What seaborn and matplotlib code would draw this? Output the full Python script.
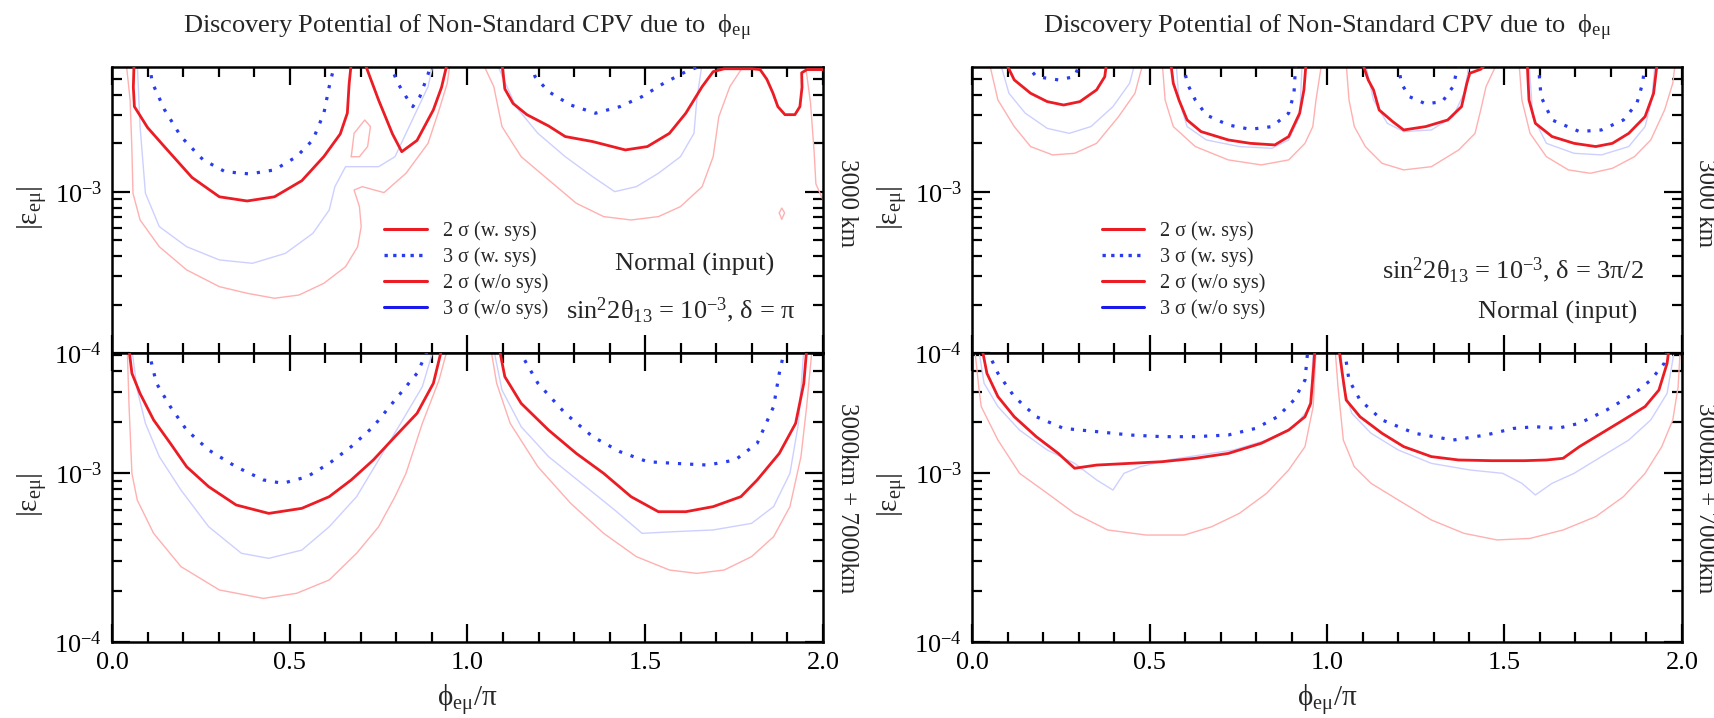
import numpy as np
import pandas as pd
import matplotlib
matplotlib.use("Agg")
import matplotlib.pyplot as plt
import seaborn as sns
from matplotlib.lines import Line2D
from matplotlib.ticker import MultipleLocator, LogLocator, FixedLocator, FixedFormatter, NullFormatter

# ---------------- data (phi/pi, log10 |eps_emu|) ----------------
# Upper-left: 3000 km, delta = pi
UL_RED_SYS_PHI = [[0.062, 0.060, 0.063, 0.100, 0.148, 0.225, 0.302, 0.380, 0.457, 0.534, 0.596, 0.642, 0.662, 0.667, 0.673],
                  [0.711, 0.750, 0.789, 0.815, 0.858, 0.904, 0.927, 0.943],
                  [1.097, 1.105, 1.128, 1.167, 1.228, 1.275, 1.352, 1.444, 1.506, 1.568, 1.614, 1.660, 1.691, 1.722, 1.800,
                   1.823, 1.842, 1.859, 1.873, 1.893, 1.921, 1.935, 1.941, 1.940, 1.955, 2.000]]
UL_RED_SYS_EXP = [[-2.20, -2.35, -2.47, -2.60, -2.72, -2.91, -3.03, -3.056, -3.03, -2.93, -2.78, -2.64, -2.51, -2.33, -2.20],
                  [-2.20, -2.43, -2.64, -2.75, -2.68, -2.49, -2.35, -2.20],
                  [-2.20, -2.36, -2.45, -2.52, -2.59, -2.656, -2.687, -2.739, -2.718, -2.636, -2.511, -2.346, -2.253, -2.235, -2.235,
                   -2.24, -2.30, -2.385, -2.47, -2.52, -2.52, -2.47, -2.35, -2.26, -2.24, -2.24]]
UL_BLUE_SYS_PHI = [[0.105, 0.113, 0.148, 0.194, 0.256, 0.318, 0.387, 0.457, 0.519, 0.565, 0.596, 0.611, 0.627],
                   [0.781, 0.804, 0.827, 0.846, 0.866, 0.889, 0.897],
                   [1.180, 1.190, 1.228, 1.290, 1.360, 1.429, 1.491, 1.552, 1.614, 1.676]]
UL_BLUE_SYS_EXP = [[-2.20, -2.32, -2.49, -2.656, -2.80, -2.874, -2.888, -2.863, -2.781, -2.677, -2.511, -2.346, -2.20],
                   [-2.20, -2.325, -2.408, -2.47, -2.408, -2.27, -2.20],
                   [-2.20, -2.284, -2.377, -2.460, -2.511, -2.470, -2.408, -2.325, -2.253, -2.20]]
UL_RED_NOSYS_PHI = [[0.040, 0.051, 0.056, 0.059, 0.079, 0.133, 0.210, 0.302, 0.380, 0.457, 0.526, 0.596, 0.657, 0.691, 0.701,
                     0.696, 0.681, 0.704, 0.765, 0.827, 0.889, 0.920, 0.943, 0.951],
                    [0.673, 0.681, 0.711, 0.727, 0.719, 0.696, 0.673],
                    [1.043, 1.074, 1.097, 1.151, 1.228, 1.306, 1.383, 1.460, 1.537, 1.599, 1.660, 1.691, 1.707, 1.738, 1.769, 1.790],
                    [1.950, 1.965, 1.975, 1.980, 2.000],
                    [1.877, 1.884, 1.892, 1.884, 1.877]]
UL_RED_NOSYS_EXP = [[-2.20, -2.429, -2.739, -3.008, -3.174, -3.340, -3.484, -3.588, -3.629, -3.660, -3.640, -3.567, -3.464, -3.340, -3.215,
                     -3.091, -2.988, -2.967, -3.004, -2.884, -2.698, -2.491, -2.325, -2.20],
                    [-2.781, -2.636, -2.553, -2.594, -2.718, -2.781, -2.781],
                    [-2.20, -2.346, -2.594, -2.781, -2.925, -3.070, -3.153, -3.174, -3.153, -3.091, -2.967, -2.781, -2.532, -2.346, -2.242, -2.20],
                    [-2.20, -2.45, -2.75, -2.95, -3.05],
                    [-3.13, -3.10, -3.13, -3.17, -3.13]]
UL_BLUE_NOSYS_PHI = [[0.071, 0.079, 0.094, 0.133, 0.210, 0.302, 0.395, 0.488, 0.565, 0.611, 0.627, 0.657, 0.750, 0.796, 0.827, 0.858, 0.889, 0.904],
                     [1.082, 1.136, 1.198, 1.275, 1.352, 1.414, 1.475, 1.537, 1.599, 1.637, 1.645, 1.660]]
UL_BLUE_NOSYS_EXP = [[-2.20, -2.594, -3.008, -3.215, -3.340, -3.422, -3.443, -3.381, -3.257, -3.112, -2.967, -2.843, -2.843, -2.781, -2.636, -2.491, -2.346, -2.20],
                     [-2.20, -2.470, -2.636, -2.781, -2.905, -2.998, -2.967, -2.884, -2.781, -2.636, -2.429, -2.20]]

# Lower-left: 3000 km + 7000 km, delta = pi
LL_RED_SYS_PHI = [[0.048, 0.056, 0.079, 0.117, 0.164, 0.210, 0.272, 0.349, 0.441, 0.534, 0.611, 0.673, 0.735, 0.796, 0.858, 0.904, 0.920, 0.927],
                  [1.090, 1.105, 1.151, 1.228, 1.306, 1.383, 1.460, 1.537, 1.614, 1.691, 1.769, 1.815, 1.877, 1.923, 1.946, 1.954]]
LL_RED_SYS_EXP = [[-2.27, -2.41, -2.53, -2.686, -2.824, -2.963, -3.081, -3.189, -3.239, -3.209, -3.140, -3.041, -2.923, -2.785, -2.647, -2.469, -2.331, -2.27],
                  [-2.27, -2.43, -2.588, -2.746, -2.884, -3.002, -3.140, -3.229, -3.229, -3.199, -3.140, -3.041, -2.884, -2.706, -2.469, -2.27]]
LL_BLUE_SYS_PHI = [[0.102, 0.125, 0.164, 0.210, 0.272, 0.349, 0.426, 0.480, 0.549, 0.611, 0.673, 0.735, 0.796, 0.858, 0.889],
                   [1.144, 1.198, 1.275, 1.352, 1.429, 1.506, 1.583, 1.676, 1.753, 1.815, 1.861, 1.877, 1.892]]
LL_BLUE_SYS_EXP = [[-2.27, -2.469, -2.607, -2.746, -2.864, -2.963, -3.041, -3.061, -3.022, -2.943, -2.844, -2.726, -2.568, -2.410, -2.27],
                   [-2.27, -2.469, -2.647, -2.785, -2.874, -2.933, -2.943, -2.953, -2.923, -2.824, -2.607, -2.410, -2.27]]
LL_RED_NOSYS_PHI = [[0.043, 0.048, 0.056, 0.071, 0.117, 0.194, 0.302, 0.426, 0.519, 0.611, 0.688, 0.750, 0.796, 0.827, 0.873, 0.920, 0.943],
                    [1.066, 1.082, 1.120, 1.198, 1.290, 1.383, 1.475, 1.568, 1.645, 1.722, 1.799, 1.861, 1.907, 1.938, 1.954, 1.969]]
LL_RED_NOSYS_EXP = [[-2.27, -2.607, -3.002, -3.160, -3.357, -3.554, -3.692, -3.742, -3.712, -3.633, -3.475, -3.318, -3.140, -3.002, -2.706, -2.450, -2.27],
                    [-2.27, -2.469, -2.706, -2.963, -3.179, -3.357, -3.495, -3.574, -3.594, -3.574, -3.495, -3.377, -3.199, -2.903, -2.607, -2.27]]
LL_BLUE_NOSYS_PHI = [[0.056, 0.071, 0.094, 0.133, 0.194, 0.272, 0.364, 0.441, 0.534, 0.611, 0.688, 0.750, 0.812, 0.873, 0.904],
                     [1.074, 1.097, 1.151, 1.228, 1.321, 1.414, 1.491, 1.583, 1.691, 1.799, 1.861, 1.907, 1.931, 1.946]]
LL_BLUE_NOSYS_EXP = [[-2.27, -2.509, -2.706, -2.903, -3.101, -3.318, -3.475, -3.505, -3.456, -3.318, -3.140, -2.923, -2.706, -2.489, -2.27],
                     [-2.27, -2.509, -2.726, -2.903, -3.061, -3.219, -3.357, -3.347, -3.337, -3.298, -3.199, -3.002, -2.706, -2.27]]

# Upper-right: 3000 km, delta = 3pi/2
UR_RED_SYS_PHI = [[0.096, 0.119, 0.165, 0.212, 0.258, 0.304, 0.351, 0.374, 0.379],
                  [0.560, 0.567, 0.583, 0.606, 0.645, 0.722, 0.784, 0.853, 0.892, 0.923, 0.935, 0.941],
                  [1.100, 1.116, 1.131, 1.147, 1.185, 1.216, 1.278, 1.340, 1.379, 1.394, 1.402, 1.433, 1.450],
                  [1.564, 1.569, 1.587, 1.634, 1.696, 1.757, 1.804, 1.850, 1.896, 1.920, 1.930]]
UR_RED_SYS_EXP = [[-2.20, -2.304, -2.387, -2.439, -2.460, -2.439, -2.366, -2.284, -2.20],
                  [-2.20, -2.325, -2.429, -2.553, -2.625, -2.677, -2.698, -2.708, -2.656, -2.511, -2.366, -2.20],
                  [-2.20, -2.304, -2.366, -2.491, -2.563, -2.615, -2.594, -2.553, -2.470, -2.325, -2.263, -2.238, -2.20],
                  [-2.20, -2.429, -2.574, -2.656, -2.698, -2.718, -2.698, -2.636, -2.532, -2.387, -2.20]]
UR_BLUE_SYS_PHI = [[0.150, 0.181, 0.243, 0.289, 0.304],
                   [0.595, 0.606, 0.629, 0.660, 0.722, 0.784, 0.845, 0.892, 0.907, 0.912],
                   [1.201, 1.209, 1.232, 1.278, 1.325, 1.355, 1.371],
                   [1.595, 1.603, 1.634, 1.711, 1.773, 1.835, 1.873, 1.889, 1.896]]
UR_BLUE_SYS_EXP = [[-2.20, -2.284, -2.304, -2.284, -2.20],
                   [-2.20, -2.325, -2.429, -2.522, -2.584, -2.611, -2.594, -2.511, -2.387, -2.20],
                   [-2.20, -2.325, -2.408, -2.453, -2.439, -2.346, -2.20],
                   [-2.20, -2.408, -2.553, -2.625, -2.615, -2.553, -2.449, -2.325, -2.20]]
UR_RED_NOSYS_PHI = [[0.049, 0.073, 0.119, 0.165, 0.227, 0.289, 0.351, 0.413, 0.459, 0.474, 0.482],
                    [0.536, 0.544, 0.567, 0.629, 0.722, 0.815, 0.892, 0.938, 0.960, 0.969, 0.985],
                    [1.054, 1.062, 1.077, 1.108, 1.155, 1.216, 1.294, 1.371, 1.417, 1.433, 1.448, 1.479],
                    [1.541, 1.549, 1.572, 1.618, 1.680, 1.742, 1.804, 1.866, 1.912, 1.951, 1.974, 1.981]]
UR_RED_NOSYS_EXP = [[-2.20, -2.429, -2.594, -2.718, -2.770, -2.760, -2.698, -2.532, -2.387, -2.263, -2.20],
                    [-2.20, -2.429, -2.594, -2.718, -2.801, -2.832, -2.801, -2.698, -2.594, -2.429, -2.20],
                    [-2.20, -2.429, -2.594, -2.718, -2.822, -2.863, -2.843, -2.739, -2.636, -2.491, -2.346, -2.20],
                    [-2.20, -2.429, -2.636, -2.781, -2.863, -2.884, -2.853, -2.781, -2.677, -2.491, -2.325, -2.20]]
UR_BLUE_NOSYS_PHI = [[0.080, 0.104, 0.150, 0.212, 0.274, 0.335, 0.397, 0.444, 0.459],
                     [0.575, 0.583, 0.606, 0.660, 0.753, 0.845, 0.892, 0.923, 0.930],
                     [1.108, 1.131, 1.170, 1.216, 1.294, 1.355, 1.386, 1.402],
                     [1.569, 1.580, 1.618, 1.696, 1.773, 1.850, 1.896, 1.915, 1.924]]
UR_BLUE_NOSYS_EXP = [[-2.20, -2.387, -2.511, -2.605, -2.636, -2.594, -2.470, -2.325, -2.20],
                     [-2.20, -2.429, -2.594, -2.677, -2.718, -2.729, -2.677, -2.532, -2.20],
                     [-2.20, -2.429, -2.574, -2.625, -2.615, -2.532, -2.387, -2.20],
                     [-2.20, -2.532, -2.698, -2.760, -2.770, -2.718, -2.594, -2.429, -2.20]]

# Lower-right: 3000 km + 7000 km, delta = 3pi/2
LR_RED_SYS_PHI = [[0.029, 0.042, 0.073, 0.119, 0.181, 0.243, 0.289, 0.351, 0.444, 0.536, 0.629, 0.722, 0.815, 0.892, 0.938, 0.954, 0.961, 0.966],
                  [1.034, 1.043, 1.054, 1.093, 1.155, 1.216, 1.294, 1.371, 1.464, 1.556, 1.618, 1.665, 1.711, 1.773, 1.835, 1.896, 1.935, 1.958, 1.963]]
LR_RED_SYS_EXP = [[-2.27, -2.410, -2.548, -2.667, -2.785, -2.884, -2.972, -2.953, -2.943, -2.933, -2.913, -2.884, -2.824, -2.746, -2.667, -2.588, -2.410, -2.27],
                  [-2.27, -2.410, -2.568, -2.667, -2.765, -2.844, -2.903, -2.923, -2.927, -2.927, -2.923, -2.913, -2.844, -2.765, -2.686, -2.607, -2.509, -2.351, -2.27]]
LR_BLUE_SYS_PHI = [[0.042, 0.073, 0.119, 0.181, 0.258, 0.351, 0.444, 0.536, 0.629, 0.722, 0.799, 0.861, 0.907, 0.938, 0.946],
                   [1.049, 1.062, 1.093, 1.155, 1.247, 1.355, 1.448, 1.526, 1.587, 1.649, 1.711, 1.788, 1.866, 1.912, 1.950, 1.958]]
LR_BLUE_SYS_EXP = [[-2.27, -2.410, -2.548, -2.667, -2.736, -2.755, -2.775, -2.785, -2.785, -2.775, -2.736, -2.667, -2.568, -2.450, -2.27],
                   [-2.27, -2.450, -2.568, -2.686, -2.765, -2.805, -2.775, -2.736, -2.726, -2.736, -2.706, -2.627, -2.529, -2.450, -2.351, -2.27]]
LR_RED_NOSYS_PHI = [[0.008, 0.019, 0.026, 0.073, 0.134, 0.212, 0.289, 0.382, 0.490, 0.598, 0.675, 0.753, 0.830, 0.892, 0.938, 0.961, 0.969],
                    [1.023, 1.031, 1.046, 1.077, 1.124, 1.201, 1.294, 1.386, 1.479, 1.572, 1.665, 1.757, 1.835, 1.896, 1.943, 1.974, 1.989, 1.995]]
LR_RED_NOSYS_EXP = [[-2.27, -2.491, -2.607, -2.805, -3.002, -3.120, -3.239, -3.337, -3.367, -3.367, -3.318, -3.239, -3.120, -2.982, -2.844, -2.607, -2.27],
                    [-2.27, -2.491, -2.805, -2.963, -3.061, -3.160, -3.278, -3.357, -3.396, -3.387, -3.337, -3.258, -3.140, -3.002, -2.844, -2.686, -2.491, -2.27]]
LR_BLUE_NOSYS_PHI = [[0.019, 0.034, 0.073, 0.134, 0.212, 0.289, 0.351, 0.397, 0.428, 0.474, 0.552, 0.645, 0.737, 0.830, 0.907, 0.954, 0.961],
                     [1.039, 1.046, 1.070, 1.124, 1.201, 1.294, 1.402, 1.495, 1.549, 1.587, 1.634, 1.696, 1.773, 1.850, 1.912, 1.958, 1.974, 1.978]]
LR_BLUE_NOSYS_EXP = [[-2.27, -2.469, -2.607, -2.746, -2.864, -2.943, -3.041, -3.101, -3.002, -2.963, -2.923, -2.893, -2.864, -2.805, -2.726, -2.607, -2.27],
                     [-2.27, -2.491, -2.647, -2.765, -2.864, -2.943, -2.982, -3.002, -3.061, -3.130, -3.061, -3.002, -2.903, -2.805, -2.686, -2.529, -2.331, -2.27]]

LEGEND_LABELS = ["2 σ (w. sys)", "3 σ (w. sys)", "2 σ (w/o sys)", "3 σ (w/o sys)"]
X_TICKS = [0.0, 0.5, 1.0, 1.5, 2.0]
X_TICK_LABELS = ["0.0", "0.5", "1.0", "1.5", "2.0"]
Y_TICKS = [1e-4, 1e-3]
Y_TICK_LABELS = [r"$10^{-4}$", r"$10^{-3}$"]
TITLE = r"Discovery Potential of Non-Standard CPV due to  $\phi_{e\mu}$"

# ---------------- style ----------------
sns.set_style("ticks")
plt.rcParams["font.family"] = ["Liberation Serif", "DejaVu Serif"]
plt.rcParams["mathtext.fontset"] = "stix"
plt.rcParams["mathtext.default"] = "regular"

RED = "#ec1c24"
BLUE = "#2a3cf0"
LRED = "#ffb0b0"
LBLUE = "#cdd0ff"

fig = plt.figure(figsize=(17.15, 7.18), dpi=100)
W, H = 1715.0, 718.0


def make_ax(x0, x1, ytop, ybot):
    return fig.add_axes([x0 / W, 1 - ybot / H, (x1 - x0) / W, (ybot - ytop) / H])


def draw_curves(ax, segs_phi, segs_exp, color, lw, ls="-", z=2):
    for ph, ex in zip(segs_phi, segs_exp):
        df = pd.DataFrame({"phi": ph, "eps": 10.0 ** np.array(ex)})
        sns.lineplot(data=df, x="phi", y="eps", sort=False, estimator=None, ax=ax,
                     color=color, linewidth=lw, linestyle=ls, legend=False, zorder=z)


def style_ax(ax, ytop, show_x):
    ax.set_yscale("log")
    ax.set_xlim(0, 2)
    ax.set_ylim(1e-4, ytop)
    ax.xaxis.set_major_locator(FixedLocator(X_TICKS))
    ax.xaxis.set_minor_locator(MultipleLocator(0.1))
    ax.yaxis.set_major_locator(FixedLocator(Y_TICKS))
    ax.yaxis.set_major_formatter(FixedFormatter(Y_TICK_LABELS))
    ax.yaxis.set_minor_locator(LogLocator(base=10, subs=np.arange(2, 10), numticks=20))
    ax.yaxis.set_minor_formatter(NullFormatter())
    if show_x:
        ax.xaxis.set_major_formatter(FixedFormatter(X_TICK_LABELS))
    else:
        ax.xaxis.set_major_formatter(NullFormatter())
    ax.tick_params(which="both", direction="in", top=True, right=True, width=1.6, colors="black")
    ax.tick_params(which="major", length=13, labelsize=19, pad=7)
    ax.tick_params(which="minor", length=7)
    for s in ax.spines.values():
        s.set_linewidth(1.8)
        s.set_color("black")
    ax.set_xlabel("")
    ax.set_ylabel("")
    ax.set_facecolor("white")


panels = [
    (112, 823, 67, 353, 5.97e-3, UL_RED_SYS_PHI, UL_RED_SYS_EXP, UL_BLUE_SYS_PHI, UL_BLUE_SYS_EXP,
     UL_RED_NOSYS_PHI, UL_RED_NOSYS_EXP, UL_BLUE_NOSYS_PHI, UL_BLUE_NOSYS_EXP, False),
    (112, 823, 353, 642, 5.13e-3, LL_RED_SYS_PHI, LL_RED_SYS_EXP, LL_BLUE_SYS_PHI, LL_BLUE_SYS_EXP,
     LL_RED_NOSYS_PHI, LL_RED_NOSYS_EXP, LL_BLUE_NOSYS_PHI, LL_BLUE_NOSYS_EXP, True),
    (972, 1682, 67, 353, 5.97e-3, UR_RED_SYS_PHI, UR_RED_SYS_EXP, UR_BLUE_SYS_PHI, UR_BLUE_SYS_EXP,
     UR_RED_NOSYS_PHI, UR_RED_NOSYS_EXP, UR_BLUE_NOSYS_PHI, UR_BLUE_NOSYS_EXP, False),
    (972, 1682, 353, 642, 5.13e-3, LR_RED_SYS_PHI, LR_RED_SYS_EXP, LR_BLUE_SYS_PHI, LR_BLUE_SYS_EXP,
     LR_RED_NOSYS_PHI, LR_RED_NOSYS_EXP, LR_BLUE_NOSYS_PHI, LR_BLUE_NOSYS_EXP, True),
]

axes = []
for (x0, x1, yt, yb, ymax, rp, re, bp, be, lrp, lre, lbp, lbe, showx) in panels:
    ax = make_ax(x0, x1, yt, yb)
    ax.set_yscale("log")
    draw_curves(ax, lrp, lre, LRED, 1.0, "-", 2)
    draw_curves(ax, lbp, lbe, LBLUE, 1.0, "-", 2)
    draw_curves(ax, rp, re, RED, 2.0, "-", 4)
    draw_curves(ax, bp, be, BLUE, 2.3, (0, (1, 2.8)), 3)
    style_ax(ax, ymax, showx)
    axes.append(ax)

ax_ul, ax_ll, ax_ur, ax_lr = axes

# legends
handles = [Line2D([], [], color=RED, lw=2.2),
           Line2D([], [], color=BLUE, lw=2.4, linestyle=(0, (1, 1.6))),
           Line2D([], [], color=RED, lw=2.2),
           Line2D([], [], color="#1a1aee", lw=2.2)]
for ax, xa in ((ax_ul, 0.383), (ax_ur, 0.183)):
    ax.legend(handles, LEGEND_LABELS, loc="center left", bbox_to_anchor=(xa, 0.29),
              frameon=False, fontsize=14.5, handlelength=2.1, handletextpad=0.8,
              labelspacing=0.32, borderpad=0, borderaxespad=0)

# annotations
ax_ul.text(0.82, 0.308, "Normal (input)", transform=ax_ul.transAxes, ha="center", va="center", fontsize=19)
ax_ul.text(0.80, 0.15, r"sin$^2$2$\theta_{13}$ = 10$^{-3}$, $\delta$ = $\pi$", transform=ax_ul.transAxes,
           ha="center", va="center", fontsize=19)
ax_ur.text(0.762, 0.29, r"sin$^2$2$\theta_{13}$ = 10$^{-3}$, $\delta$ = 3$\pi$/2", transform=ax_ur.transAxes,
           ha="center", va="center", fontsize=19)
ax_ur.text(0.825, 0.143, "Normal (input)", transform=ax_ur.transAxes, ha="center", va="center", fontsize=19)

# titles
for xc in (467.5, 1327):
    fig.text(xc / W, 1 - 28 / H, TITLE, ha="center", va="center", fontsize=19)

# y labels
for xc, yc in ((32, 208), (32, 495), (892, 208), (892, 495)):
    fig.text(xc / W, 1 - yc / H, r"$|\varepsilon_{e\mu}|$", rotation=90, ha="center", va="center", fontsize=21)

# right side labels
for xc in (847, 1705):
    fig.text(xc / W, 1 - 203 / H, "3000 km", rotation=270, ha="center", va="center", fontsize=18)
    fig.text(xc / W, 1 - 498 / H, "3000km + 7000km", rotation=270, ha="center", va="center", fontsize=18)

# x labels
for xc in (467.5, 1327):
    fig.text(xc / W, 1 - 700 / H, r"$\phi_{e\mu}/\pi$", ha="center", va="center", fontsize=21)

fig.savefig("out.png", dpi=100, facecolor="white")
